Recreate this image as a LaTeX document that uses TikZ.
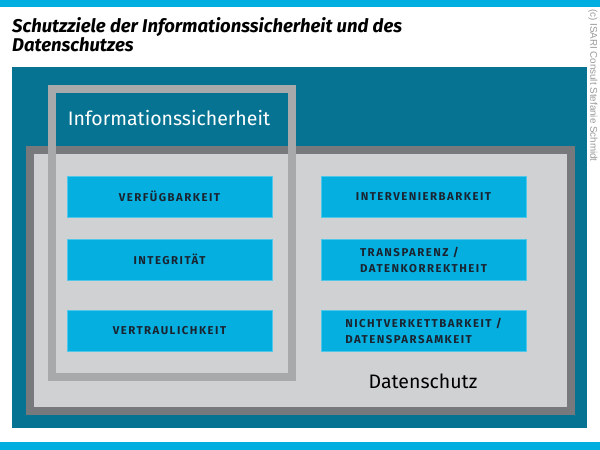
\documentclass[tikz,border=0pt]{standalone}
\usepackage{fontspec}
\setmainfont{Fira Sans}
\newfontfamily\capsfont[LetterSpace=13]{Fira Sans}
\newfontfamily\notefont{Liberation Sans}
\usetikzlibrary{positioning}

\definecolor{barcyan}{HTML}{00AEE0}
\definecolor{outerteal}{HTML}{077392}
\definecolor{darkframe}{HTML}{78797C}
\definecolor{lightfill}{HTML}{D0D1D3}
\definecolor{lightframe}{HTML}{A8A9AB}
\definecolor{goalblue}{HTML}{05AFE0}
\definecolor{goaltext}{HTML}{1A2430}

\begin{document}
\begin{tikzpicture}[x=1pt,y=-1pt,
  goal/.style={fill=goalblue, draw=goalblue!70!white, minimum width=205pt,
    minimum height=41pt, inner sep=0pt, text=goaltext, align=center,
    font=\capsfont\fontsize{11.4}{16}\selectfont\bfseries}]

  \useasboundingbox (0,0) rectangle (600,450);

  % Bars top and bottom
  \fill[barcyan] (0,0) rectangle (600,7);
  \fill[barcyan] (0,442) rectangle (600,450);

  % Title
  \node[anchor=north west, align=left, inner sep=0pt,
    font=\fontsize{18.5}{19.5}\selectfont\bfseries\itshape] (title) at (12,17)
    {Schutzziele der Informationssicherheit und des\\Datenschutzes};

  % Copyright
  \node[rotate=-90, anchor=west, inner sep=0pt, text=gray!80,
    font=\notefont\fontsize{9.8}{11}\selectfont] (note) at (593,9)
    {(c) ISARI Consult Stefanie Schmidt};

  % Background
  \fill[outerteal] (12,67) rectangle (587,428);

  % Datenschutz
  \draw[line width=8pt, darkframe, fill=lightfill] (30,150) rectangle (571,411);
  \node[font=\fontsize{19.5}{22}\selectfont] (ds) at (423,381) {Datenschutz};

  % Informationssicherheit
  \draw[line width=8pt, lightframe] (52,89) rectangle (292,377);
  \node[text=white, font=\fontsize{19.5}{22}\selectfont] (is) at (169,118)
    {Informationssicherheit};

  % Goals
  \node[goal] (verf) at (169.5,196.5) {VERFÜGBARKEIT};
  \node[goal] (integ) at (169.5,259.5) {INTEGRITÄT};
  \node[goal] (vertr) at (169.5,330.5) {VERTRAULICHKEIT};
  \node[goal] (interv) at (423.5,196.5) {INTERVENIERBARKEIT};
  \node[goal, align=left] (transp) at (423.5,259.5)
    {TRANSPARENZ /\\DATENKORREKTHEIT};
  \node[goal, align=left] (nverk) at (423.5,330.5)
    {NICHTVERKETTBARKEIT /\\DATENSPARSAMKEIT};

\end{tikzpicture}
\end{document}
